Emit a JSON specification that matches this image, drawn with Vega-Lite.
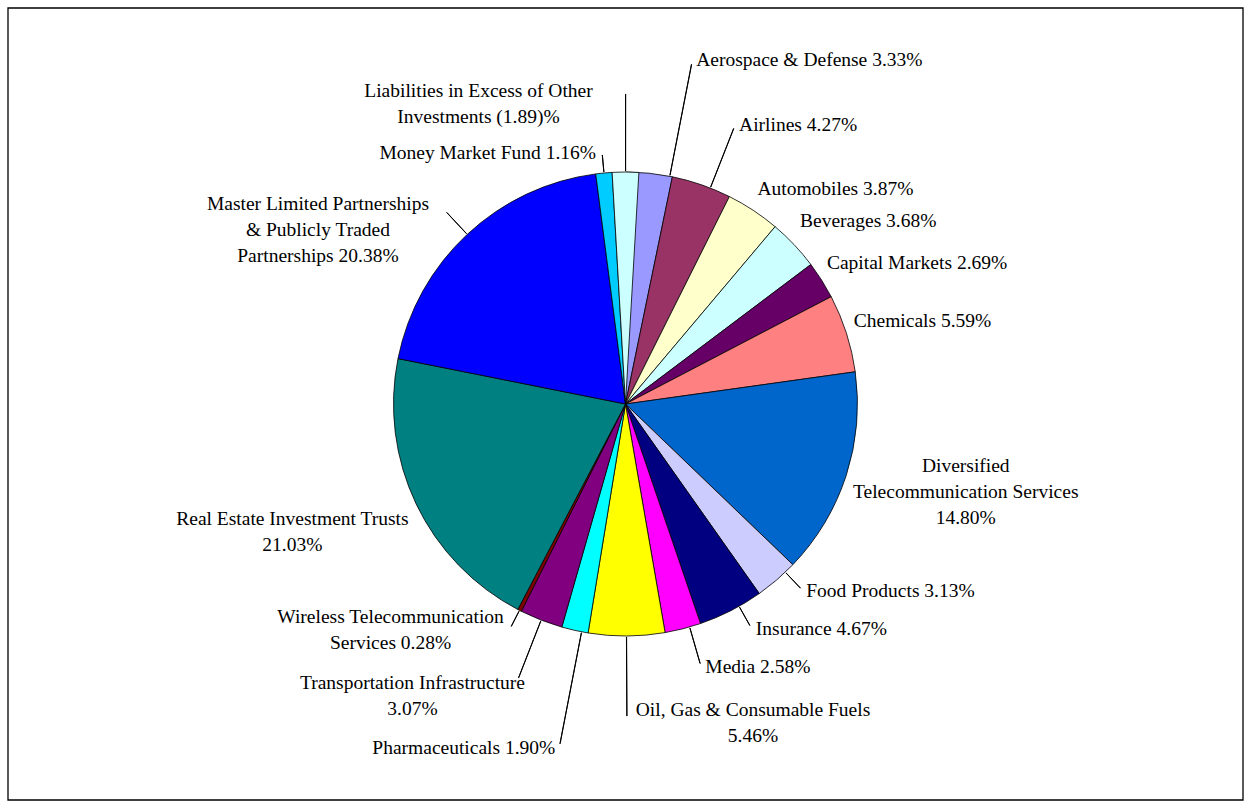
{
  "$schema": "https://vega.github.io/schema/vega-lite/v6.json",
  "width": 1251,
  "height": 808,
  "padding": 7,
  "autosize": {"type": "fit", "contains": "padding"},
  "background": "white",
  "config": {
    "view": {"stroke": null},
    "text": {"font": "Liberation Serif", "fontSize": 19.5, "lineHeight": 26, "lineBreak": "\n", "baseline": "middle", "color": "black"}
  },
  "data": {
    "values": [
      {"order": 1, "category": "Aerospace & Defense", "label": "Aerospace & Defense  3.33%", "value": 3.33},
      {"order": 2, "category": "Airlines", "label": "Airlines  4.27%", "value": 4.27},
      {"order": 3, "category": "Automobiles", "label": "Automobiles  3.87%", "value": 3.87},
      {"order": 4, "category": "Beverages", "label": "Beverages  3.68%", "value": 3.68},
      {"order": 5, "category": "Capital Markets", "label": "Capital Markets  2.69%", "value": 2.69},
      {"order": 6, "category": "Chemicals", "label": "Chemicals  5.59%", "value": 5.59},
      {"order": 7, "category": "Diversified Telecommunication Services", "label": "Diversified\nTelecommunication Services\n14.80%", "value": 14.80},
      {"order": 8, "category": "Food Products", "label": "Food Products  3.13%", "value": 3.13},
      {"order": 9, "category": "Insurance", "label": "Insurance  4.67%", "value": 4.67},
      {"order": 10, "category": "Media", "label": "Media  2.58%", "value": 2.58},
      {"order": 11, "category": "Oil, Gas & Consumable Fuels", "label": "Oil, Gas & Consumable Fuels\n5.46%", "value": 5.46},
      {"order": 12, "category": "Pharmaceuticals", "label": "Pharmaceuticals  1.90%", "value": 1.90},
      {"order": 13, "category": "Transportation Infrastructure", "label": "Transportation Infrastructure\n3.07%", "value": 3.07},
      {"order": 14, "category": "Wireless Telecommunication Services", "label": "Wireless Telecommunication\nServices 0.28%", "value": 0.28},
      {"order": 15, "category": "Real Estate Investment Trusts", "label": "Real Estate Investment Trusts\n21.03%", "value": 21.03},
      {"order": 16, "category": "Master Limited Partnerships & Publicly Traded Partnerships", "label": "Master Limited Partnerships\n& Publicly Traded\nPartnerships 20.38%", "value": 20.38},
      {"order": 17, "category": "Money Market Fund", "label": "Money Market Fund 1.16%", "value": 1.16},
      {"order": 18, "category": "Liabilities in Excess of Other Investments", "label": "Liabilities in Excess of Other\nInvestments (1.89)%", "value": 1.89}
    ]
  },
  "transform": [
    {"stack": "value", "groupby": [], "sort": [{"field": "order", "order": "ascending"}], "as": ["v0", "v1"]},
    {"calculate": "(datum.v0 + datum.v1) / 2", "as": "mid"},
    {"calculate": "datum.mid + 0.01", "as": "mid2"}
  ],
  "layer": [
    {
      "data": {"values": [{}]},
      "transform": [],
      "mark": {"type": "rect", "filled": false, "color": "black", "strokeWidth": 1.3},
      "encoding": {}
    },
    {
      "mark": {"type": "arc", "outerRadius": 232, "stroke": "black", "strokeWidth": 0.8},
      "encoding": {
        "theta": {"field": "v0", "type": "quantitative"},
        "theta2": {"field": "v1"},
        "color": {
          "field": "category", "type": "nominal", "legend": null,
          "scale": {
            "domain": ["Aerospace & Defense", "Airlines", "Automobiles", "Beverages", "Capital Markets", "Chemicals", "Diversified Telecommunication Services", "Food Products", "Insurance", "Media", "Oil, Gas & Consumable Fuels", "Pharmaceuticals", "Transportation Infrastructure", "Wireless Telecommunication Services", "Real Estate Investment Trusts", "Master Limited Partnerships & Publicly Traded Partnerships", "Money Market Fund", "Liabilities in Excess of Other Investments"],
            "range": ["#9999FF", "#993366", "#FFFFCC", "#CCFFFF", "#660066", "#FF8080", "#0066CC", "#CCCCFF", "#000080", "#FF00FF", "#FFFF00", "#00FFFF", "#800080", "#800000", "#008080", "#0000FF", "#00CCFF", "#CCFFFF"]
          }
        }
      }
    },
    {
      "transform": [{"filter": {"field": "order", "equal": 1}}],
      "layer": [
        {"mark": {"type": "arc", "innerRadius": 233, "outerRadius": 346, "thetaOffset": 0.09, "theta2Offset": 0.09, "filled": false, "color": "black", "strokeWidth": 1}, "encoding": {"theta": {"field": "mid", "type": "quantitative"}, "theta2": {"field": "mid2"}}},
        {"mark": {"type": "text", "radius": 350, "thetaOffset": 0.09, "align": "left", "dx": 4}, "encoding": {"theta": {"field": "mid", "type": "quantitative", "stack": null}, "text": {"field": "label"}}}
      ]
    },
    {
      "transform": [{"filter": {"field": "order", "equal": 2}}],
      "layer": [
        {"mark": {"type": "arc", "innerRadius": 233, "outerRadius": 296, "thetaOffset": 0.04, "theta2Offset": 0.04, "filled": false, "color": "black", "strokeWidth": 1}, "encoding": {"theta": {"field": "mid", "type": "quantitative"}, "theta2": {"field": "mid2"}}},
        {"mark": {"type": "text", "radius": 300, "thetaOffset": 0.04, "align": "left", "dx": 4}, "encoding": {"theta": {"field": "mid", "type": "quantitative", "stack": null}, "text": {"field": "label"}}}
      ]
    },
    {
      "transform": [{"filter": {"field": "order", "equal": 3}}],
      "mark": {"type": "text", "radius": 258, "align": "left", "dx": -10}, "encoding": {"theta": {"field": "mid", "type": "quantitative", "stack": null}, "text": {"field": "label"}}
    },
    {
      "transform": [{"filter": {"field": "order", "equal": 4}}],
      "mark": {"type": "text", "radius": 254, "align": "left", "dx": -10, "dy": -8}, "encoding": {"theta": {"field": "mid", "type": "quantitative", "stack": null}, "text": {"field": "label"}}
    },
    {
      "transform": [{"filter": {"field": "order", "equal": 5}}],
      "mark": {"type": "text", "radius": 250, "align": "left", "dx": -10, "dy": -8}, "encoding": {"theta": {"field": "mid", "type": "quantitative", "stack": null}, "text": {"field": "label"}}
    },
    {
      "transform": [{"filter": {"field": "order", "equal": 6}}],
      "mark": {"type": "text", "radius": 246, "align": "left", "dx": -6, "dy": -8}, "encoding": {"theta": {"field": "mid", "type": "quantitative", "stack": null}, "text": {"field": "label"}}
    },
    {
      "transform": [{"filter": {"field": "order", "equal": 7}}],
      "mark": {"type": "text", "radius": 345, "align": "center", "dx": 12, "dy": -44}, "encoding": {"theta": {"field": "mid", "type": "quantitative", "stack": null}, "text": {"field": "label"}}
    },
    {
      "transform": [{"filter": {"field": "order", "equal": 8}}],
      "layer": [
        {"mark": {"type": "arc", "innerRadius": 233, "outerRadius": 254, "thetaOffset": -0.05, "theta2Offset": -0.05, "filled": false, "color": "black", "strokeWidth": 1}, "encoding": {"theta": {"field": "mid", "type": "quantitative"}, "theta2": {"field": "mid2"}}},
        {"mark": {"type": "text", "radius": 258, "thetaOffset": -0.05, "align": "left", "dx": 3}, "encoding": {"theta": {"field": "mid", "type": "quantitative", "stack": null}, "text": {"field": "label"}}}
      ]
    },
    {
      "transform": [{"filter": {"field": "order", "equal": 9}}],
      "layer": [
        {"mark": {"type": "arc", "innerRadius": 233, "outerRadius": 254, "thetaOffset": -0.04, "theta2Offset": -0.04, "filled": false, "color": "black", "strokeWidth": 1}, "encoding": {"theta": {"field": "mid", "type": "quantitative"}, "theta2": {"field": "mid2"}}},
        {"mark": {"type": "text", "radius": 258, "thetaOffset": -0.04, "align": "left", "dx": 4}, "encoding": {"theta": {"field": "mid", "type": "quantitative", "stack": null}, "text": {"field": "label"}}}
      ]
    },
    {
      "transform": [{"filter": {"field": "order", "equal": 10}}],
      "layer": [
        {"mark": {"type": "arc", "innerRadius": 233, "outerRadius": 270, "thetaOffset": -0.03, "theta2Offset": -0.03, "filled": false, "color": "black", "strokeWidth": 1}, "encoding": {"theta": {"field": "mid", "type": "quantitative"}, "theta2": {"field": "mid2"}}},
        {"mark": {"type": "text", "radius": 274, "thetaOffset": -0.03, "align": "left", "dx": 4}, "encoding": {"theta": {"field": "mid", "type": "quantitative", "stack": null}, "text": {"field": "label"}}}
      ]
    },
    {
      "transform": [{"filter": {"field": "order", "equal": 11}}],
      "layer": [
        {"mark": {"type": "arc", "innerRadius": 233, "outerRadius": 312, "filled": false, "color": "black", "strokeWidth": 1}, "encoding": {"theta": {"field": "mid", "type": "quantitative"}, "theta2": {"field": "mid2"}}},
        {"mark": {"type": "text", "radius": 318, "align": "center", "dx": 126, "dy": -12}, "encoding": {"theta": {"field": "mid", "type": "quantitative", "stack": null}, "text": {"field": "label"}}}
      ]
    },
    {
      "transform": [{"filter": {"field": "order", "equal": 12}}],
      "layer": [
        {"mark": {"type": "arc", "innerRadius": 233, "outerRadius": 346, "thetaOffset": -0.03, "theta2Offset": -0.03, "filled": false, "color": "black", "strokeWidth": 1}, "encoding": {"theta": {"field": "mid", "type": "quantitative"}, "theta2": {"field": "mid2"}}},
        {"mark": {"type": "text", "radius": 350, "thetaOffset": -0.03, "align": "right", "dx": -4}, "encoding": {"theta": {"field": "mid", "type": "quantitative", "stack": null}, "text": {"field": "label"}}}
      ]
    },
    {
      "transform": [{"filter": {"field": "order", "equal": 13}}],
      "layer": [
        {"mark": {"type": "arc", "innerRadius": 233, "outerRadius": 294, "filled": false, "color": "black", "strokeWidth": 1}, "encoding": {"theta": {"field": "mid", "type": "quantitative"}, "theta2": {"field": "mid2"}}},
        {"mark": {"type": "text", "radius": 300, "align": "center", "dx": -104}, "encoding": {"theta": {"field": "mid", "type": "quantitative", "stack": null}, "text": {"field": "label"}}}
      ]
    },
    {
      "transform": [{"filter": {"field": "order", "equal": 14}}],
      "layer": [
        {"mark": {"type": "arc", "innerRadius": 233, "outerRadius": 250, "filled": false, "color": "black", "strokeWidth": 1}, "encoding": {"theta": {"field": "mid", "type": "quantitative"}, "theta2": {"field": "mid2"}}},
        {"mark": {"type": "text", "radius": 256, "align": "center", "dx": -118, "dy": -15}, "encoding": {"theta": {"field": "mid", "type": "quantitative", "stack": null}, "text": {"field": "label"}}}
      ]
    },
    {
      "transform": [{"filter": {"field": "order", "equal": 15}}],
      "mark": {"type": "text", "radius": 245, "align": "center", "dx": -112, "dy": 9}, "encoding": {"theta": {"field": "mid", "type": "quantitative", "stack": null}, "text": {"field": "label"}}
    },
    {
      "transform": [{"filter": {"field": "order", "equal": 16}}],
      "layer": [
        {"mark": {"type": "arc", "innerRadius": 233, "outerRadius": 262, "filled": false, "color": "black", "strokeWidth": 1}, "encoding": {"theta": {"field": "mid", "type": "quantitative"}, "theta2": {"field": "mid2"}}},
        {"mark": {"type": "text", "radius": 266, "align": "center", "dx": -126, "dy": -6}, "encoding": {"theta": {"field": "mid", "type": "quantitative", "stack": null}, "text": {"field": "label"}}}
      ]
    },
    {
      "transform": [{"filter": {"field": "order", "equal": 17}}],
      "layer": [
        {"mark": {"type": "arc", "innerRadius": 233, "outerRadius": 250, "filled": false, "color": "black", "strokeWidth": 1}, "encoding": {"theta": {"field": "mid", "type": "quantitative"}, "theta2": {"field": "mid2"}}},
        {"mark": {"type": "text", "radius": 252, "align": "right", "dx": -6}, "encoding": {"theta": {"field": "mid", "type": "quantitative", "stack": null}, "text": {"field": "label"}}}
      ]
    },
    {
      "transform": [{"filter": {"field": "order", "equal": 18}}],
      "layer": [
        {"mark": {"type": "arc", "innerRadius": 233, "outerRadius": 310, "filled": false, "color": "black", "strokeWidth": 1}, "encoding": {"theta": {"field": "mid", "type": "quantitative"}, "theta2": {"field": "mid2"}}},
        {"mark": {"type": "text", "radius": 313, "align": "center", "dx": -147}, "encoding": {"theta": {"field": "mid", "type": "quantitative", "stack": null}, "text": {"field": "label"}}}
      ]
    }
  ]
}
